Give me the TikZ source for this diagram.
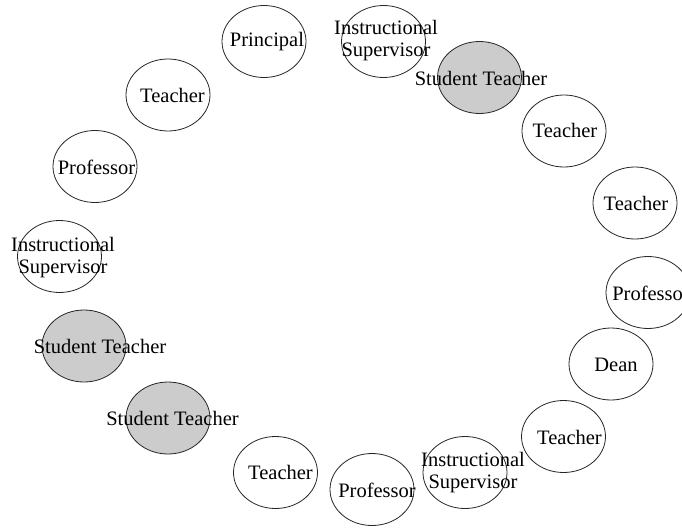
\documentclass[tikz,border=0pt]{standalone}
\usepackage{fontspec}
\setmainfont{Liberation Serif}
\usetikzlibrary{shapes.geometric}
\begin{document}
\begin{tikzpicture}[x=1pt,y=-1pt,
  role/.style={ellipse,draw=black!85,line width=0.8pt,fill=white,minimum width=84pt,minimum height=72pt,inner sep=0pt},
  student/.style={role,fill=black!20},
  lbl/.style={inner sep=0pt,font=\fontsize{20.5}{22}\selectfont,align=center}]
\useasboundingbox (0,0) rectangle (682,527);
\clip (0,0) rectangle (682,527);
% ellipses
\node[role] (e1) at (264,41.5) {};
\node[role] (e2) at (383.5,41.5) {};
\node[student] (e3) at (479.5,77.5) {};
\node[role] (e4) at (564,131) {};
\node[role] (e5) at (635,203) {};
\node[role] (e6) at (648,292.5) {};
\node[role] (e7) at (611,364) {};
\node[role] (e8) at (563.5,436.5) {};
\node[role] (e9) at (465,472.5) {};
\node[role] (e10) at (372,489.5) {};
\node[role] (e11) at (275.5,472.5) {};
\node[student] (e12) at (168,418) {};
\node[student] (e13) at (84,346) {};
\node[role] (e14) at (59.5,256.5) {};
\node[role] (e15) at (95,166.5) {};
\node[role] (e16) at (168,95) {};
% labels
\node[lbl] (t1) at (267,42) {Principal};
\node[lbl] (t2) at (386,41) {Instructional\\Supervisor};
\node[lbl] (t3) at (481,78) {Student Teacher};
\node[lbl] (t4) at (565,130) {Teacher};
\node[lbl] (t5) at (636,203) {Teacher};
\node[lbl] (t6) at (651,293) {Professor};
\node[lbl] (t7) at (616,365) {Dean};
\node[lbl] (t8) at (569.5,437) {Teacher};
\node[lbl] (t9) at (473,472.5) {Instructional\\Supervisor};
\node[lbl] (t10) at (377,490) {Professor};
\node[lbl] (t11) at (280.5,472.5) {Teacher};
\node[lbl] (t12) at (172.5,418.5) {Student Teacher};
\node[lbl] (t13) at (100,346.5) {Student Teacher};
\node[lbl] (t14) at (63,258) {Instructional\\Supervisor};
\node[lbl] (t15) at (96.5,167) {Professor};
\node[lbl] (t16) at (172.5,95) {Teacher};
\end{tikzpicture}
\end{document}
